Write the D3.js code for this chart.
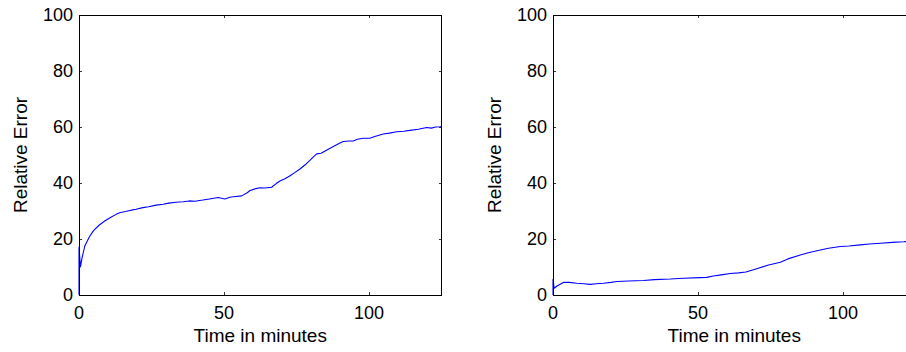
<!DOCTYPE html>
<html>
<head>
<meta charset="utf-8">
<script src="https://cdn.jsdelivr.net/npm/d3@7"></script>
<style>
  html, body { margin: 0; padding: 0; background: #fff; }
  svg { display: block; }
  text { font-family: "Liberation Sans", Arial, Helvetica, sans-serif; fill: #000; }
</style>
</head>
<body>
<script>
// Relative error over time for two runs
const leftTime  = [0, 0, 0.5, 1, 2, 3.6, 5, 7, 9, 11, 12.8, 14, 16, 18, 19.7, 22, 24, 26.6, 29, 31, 33.4, 36, 38, 40, 42.7, 45, 48, 50.3, 52, 53.2, 56.1, 58, 59, 61, 62.4, 64, 66.4, 68, 69.3, 71, 72.8, 74.5, 76.2, 78, 79.7, 81, 82, 83.5, 85.5, 87.7, 89.5, 91.1, 93, 94.6, 96, 98, 100.3, 102, 104.9, 107, 109.6, 112, 114.1, 117, 119.9, 121.5, 123, 124.5, 125];
const leftError = [0, 17, 10, 13, 17.5, 20.8, 23, 25, 26.5, 27.8, 28.8, 29.4, 29.8, 30.3, 30.6, 31.2, 31.5, 32.1, 32.4, 32.8, 33.1, 33.3, 33.6, 33.5, 33.9, 34.3, 34.8, 34.3, 34.9, 35.1, 35.4, 36.5, 37.3, 38, 38.3, 38.2, 38.5, 39.8, 40.7, 41.5, 42.6, 43.8, 45, 46.5, 48.2, 49.5, 50.4, 50.6, 51.8, 53, 54, 54.8, 55, 55, 55.6, 56, 56, 56.6, 57.5, 57.8, 58.3, 58.5, 58.8, 59.2, 59.8, 59.6, 60, 60.1, 60.2];

const rightTime  = [0, 0, 0.4, 1.5, 3.6, 5.5, 8.2, 10.5, 12.8, 15, 17.4, 20, 22, 26, 31.2, 35, 40.4, 45, 50.7, 53, 55.3, 58, 61.1, 64, 66.5, 70, 74, 78.4, 81, 85.3, 88, 92.2, 95, 99.1, 102, 106, 109, 112.9, 117, 120.9, 125];
const rightError = [0, 5.6, 2.4, 3.3, 4.5, 4.5, 4.2, 4.0, 3.8, 4.0, 4.2, 4.5, 4.8, 5.0, 5.2, 5.5, 5.7, 6.0, 6.2, 6.3, 6.8, 7.2, 7.7, 7.9, 8.2, 9.3, 10.6, 11.7, 12.9, 14.3, 15.1, 16.1, 16.7, 17.3, 17.5, 17.9, 18.2, 18.5, 18.8, 19.0, 19.4];

const xTicks = [0, 50, 100];
const yTicks = [0, 20, 40, 60, 80, 100];
const xLabel = "Time in minutes";
const yLabel = "Relative Error";

const W = 906, H = 352;
const svg = d3.select("body").append("svg").attr("width", W).attr("height", H);

function panel(left, times, errors) {
  const top = 15, bottom = 295, width = 362.5;
  const x = d3.scaleLinear().domain([0, 125]).range([left, left + width]);
  const y = d3.scaleLinear().domain([0, 100]).range([bottom, top]);
  const g = svg.append("g");
  const tickLen = 3;
  const tickFont = 18, titleFont = 19;

  // inward ticks on all four sides
  const tickColor = "#333";
  xTicks.forEach(t => {
    g.append("line").attr("x1", x(t)).attr("x2", x(t)).attr("y1", bottom).attr("y2", bottom - tickLen)
      .attr("stroke", tickColor).attr("stroke-width", 1).attr("shape-rendering", "crispEdges");
    g.append("line").attr("x1", x(t)).attr("x2", x(t)).attr("y1", top).attr("y2", top + tickLen)
      .attr("stroke", tickColor).attr("stroke-width", 1).attr("shape-rendering", "crispEdges");
    g.append("text").attr("x", x(t)).attr("y", 319).attr("text-anchor", "middle")
      .attr("font-size", tickFont).text(t);
  });
  yTicks.forEach(t => {
    g.append("line").attr("x1", x(0)).attr("x2", x(0) + tickLen).attr("y1", y(t)).attr("y2", y(t))
      .attr("stroke", tickColor).attr("stroke-width", 1).attr("shape-rendering", "crispEdges");
    g.append("line").attr("x1", x(125)).attr("x2", x(125) - tickLen).attr("y1", y(t)).attr("y2", y(t))
      .attr("stroke", tickColor).attr("stroke-width", 1).attr("shape-rendering", "crispEdges");
    g.append("text").attr("x", x(0) - 6).attr("y", y(t)).attr("dy", "0.36em").attr("text-anchor", "end")
      .attr("font-size", tickFont).text(t);
  });

  // the error curve
  const line = d3.line().x((d, i) => x(times[i])).y(d => y(d));
  g.append("path").datum(errors).attr("d", line).attr("fill", "none")
    .attr("stroke", "#0000ff").attr("stroke-width", 1.1).attr("stroke-linejoin", "round");

  // axes box
  g.append("rect").attr("x", x(0)).attr("y", top).attr("width", width).attr("height", bottom - top)
    .attr("fill", "none").attr("stroke", "#000").attr("stroke-width", 1).attr("shape-rendering", "crispEdges");

  // axis titles
  g.append("text").attr("x", x(0) + width / 2).attr("y", 342).attr("text-anchor", "middle")
    .attr("font-size", titleFont).text(xLabel);
  g.append("text").attr("transform", `translate(${left - 52.5},${(top + bottom) / 2}) rotate(-90)`)
    .attr("text-anchor", "middle").attr("font-size", titleFont).text(yLabel);
}

panel(79, leftTime, leftError);
panel(553, rightTime, rightError);
</script>
</body>
</html>
